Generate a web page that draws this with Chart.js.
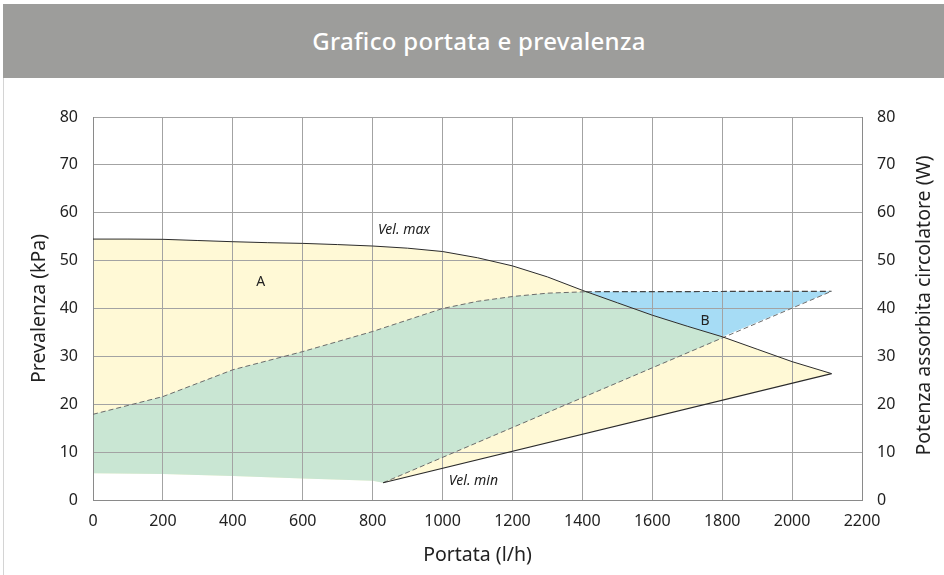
<!DOCTYPE html>
<html>
<head>
<meta charset="utf-8">
<script src="https://cdn.jsdelivr.net/npm/chart.js@4.4.1/dist/chart.umd.min.js"></script>
<style>
  body { margin: 0; background: #fff; }
  .panel-border { position: absolute; left: 3px; top: 4px; width: 0; height: 571px; border-left: 1px solid #d4d4d4; }
  .panel-header {
    position: absolute; left: 3px; top: 4px; width: 941px; height: 74px;
    background: #9d9d9b; color: #fff;
    font-family: 'Noto Sans', sans-serif; font-size: 24px; font-weight: 500; letter-spacing: 0.3px;
    line-height: 74px; text-align: center; box-sizing: border-box; padding-left: 11px;
  }
  .chart-wrap { position: absolute; left: 0; top: 78px; width: 944px; height: 497px; }
</style>
</head>
<body>
<div class="panel-border"></div>
<div class="panel-header">Grafico portata e prevalenza</div>
<div class="chart-wrap"><canvas id="grafico"></canvas></div>

<script>
// tick values
const portataTicks = [0, 200, 400, 600, 800, 1000, 1200, 1400, 1600, 1800, 2000, 2200];
const prevalenzaTicks = [0, 10, 20, 30, 40, 50, 60, 70, 80];

// curva velocità massima (kPa)
const velMaxX = [0, 100, 200, 300, 400, 500, 600, 700, 800, 900, 1000, 1100, 1200, 1300, 1400, 1500, 1600, 1700, 1800, 1900, 2000, 2113];
const velMaxY = [54.5, 54.5, 54.45, 54.2, 53.95, 53.75, 53.6, 53.35, 53.05, 52.6, 51.9, 50.6, 48.9, 46.6, 43.8, 41.2, 38.6, 36.3, 34.1, 31.5, 28.9, 26.4];

// curva velocità minima (kPa)
const velMinX = [830, 2113];
const velMinY = [3.6, 26.4];

// potenza assorbita (W) - tratteggiate
const potenzaX = [0, 200, 400, 600, 800, 1000, 1100, 1200, 1300, 1410];
const potenzaY = [17.9, 21.6, 27.2, 31.0, 35.2, 40.0, 41.5, 42.5, 43.2, 43.5];
const potenzaPiattaX = [1410, 2113];
const potenzaPiattaY = [43.5, 43.6];
const potenzaDiagX = [830, 2113];
const potenzaDiagY = [3.6, 43.6];

// bordo inferiore zona verde
const limiteBassoX = [0, 200, 400, 600, 800, 830];
const limiteBassoY = [5.6, 5.45, 5.0, 4.5, 4.0, 3.6];

const pts = (xs, ys) => xs.map((x, i) => ({ x: x, y: ys[i] }));

const velMax = pts(velMaxX, velMaxY);
const velMin = pts(velMinX, velMinY);
const potenza = pts(potenzaX, potenzaY);
const potenzaPiatta = pts(potenzaPiattaX, potenzaPiattaY);
const potenzaDiag = pts(potenzaDiagX, potenzaDiagY);
const limiteBasso = pts(limiteBassoX, limiteBassoY);

const greenUpper = potenza.concat(velMax.filter(p => p.x > 1410 && p.x <= 1800));
const greenLower = limiteBasso.concat(potenzaDiag.slice(1));
const blueUpper = potenzaPiatta;
const blueLower = velMax.filter(p => p.x >= 1400 && p.x <= 1800).concat(potenzaDiag.slice(1));
const yellowUpper = velMax;
const yellowLower = limiteBasso.concat(velMin.slice(1));

const FONT = 'Noto Sans';
const textColor = '#222';
const gridColor = '#a3a3a3';
const rightTitle = 'Potenza assorbita circolatore (W)';

function area(data, fill, color) {
  return { data: data, fill: fill, backgroundColor: color, borderWidth: 0, borderColor: 'transparent', pointRadius: 0, tension: 0 };
}
function stroke(data, color, width, dash) {
  return { data: data, fill: false, borderColor: color, borderWidth: width, borderDash: dash || [], pointRadius: 0, tension: 0 };
}

const labelsPlugin = {
  id: 'etichette',
  afterDatasetsDraw(chart) {
    const { ctx, scales, chartArea } = chart;
    const items = [
      { text: 'Vel. max', x: 815, y: 56.4, font: 'italic 14px ' + FONT, align: 'left' },
      { text: 'Vel. min', x: 1018, y: 4.0, font: 'italic 14px ' + FONT, align: 'left' },
      { text: 'A', x: 480, y: 45.5, font: '14px ' + FONT, align: 'center' },
      { text: 'B', x: 1751, y: 37.4, font: '14px ' + FONT, align: 'center' }
    ];
    ctx.save();
    ctx.fillStyle = textColor;
    ctx.textBaseline = 'middle';
    items.forEach(it => {
      ctx.font = it.font;
      ctx.textAlign = it.align;
      ctx.fillText(it.text, scales.x.getPixelForValue(it.x), scales.y.getPixelForValue(it.y));
    });
    // titolo asse destro, letto dal basso verso l'alto
    ctx.translate(924, (chartArea.top + chartArea.bottom) / 2 - 3);
    ctx.rotate(-Math.PI / 2);
    ctx.font = '19.5px ' + FONT;
    ctx.textAlign = 'center';
    ctx.fillText(rightTitle, 0, 0);
    ctx.restore();
  }
};

new Chart(document.getElementById('grafico'), {
  type: 'line',
  data: {
    datasets: [
      area(greenUpper, 1, '#c9e6d3'),
      area(greenLower, false, 'transparent'),
      area(blueUpper, 3, '#a6dcf5'),
      area(blueLower, false, 'transparent'),
      area(yellowUpper, 5, '#fff9d6'),
      area(yellowLower, false, 'transparent'),
      stroke(velMax, '#2b2b2b', 1),
      stroke(velMin, '#2b2b2b', 1.2),
      stroke(potenza, '#6b6b6b', 1, [5, 3]),
      stroke(potenzaPiatta, '#444', 1.2, [6, 3]),
      stroke(potenzaDiag, '#6b6b6b', 1, [5, 3])
    ]
  },
  options: {
    responsive: true,
    maintainAspectRatio: false,
    animation: false,
    layout: { padding: { top: 39, left: 0, right: 0, bottom: 0 } },
    plugins: {
      legend: { display: false },
      tooltip: { enabled: false },
      filler: { drawTime: 'beforeDraw' }
    },
    scales: {
      x: {
        type: 'linear',
        min: 0,
        max: 2200,
        afterBuildTicks: axis => { axis.ticks = portataTicks.map(v => ({ value: v })); },
        afterFit: axis => { axis.height = 75; },
        ticks: { color: textColor, font: { family: FONT, size: 16 }, padding: 12, maxRotation: 0, callback: v => String(v) },
        grid: { color: gridColor, drawTicks: false },
        border: { color: '#8a8a8a' },
        title: { display: true, text: 'Portata (l/h)', color: textColor, font: { family: FONT, size: 19.5 }, padding: { top: 0, bottom: 8 } }
      },
      y: {
        position: 'left',
        min: 0,
        max: 80,
        afterBuildTicks: axis => { axis.ticks = prevalenzaTicks.map(v => ({ value: v })); },
        afterFit: axis => { axis.width = 93; },
        ticks: { color: textColor, font: { family: FONT, size: 16 }, padding: 15, callback: v => String(v) },
        grid: { color: gridColor, drawTicks: false },
        border: { color: '#8a8a8a' },
        title: { display: true, text: 'Prevalenza (kPa)', color: textColor, font: { family: FONT, size: 19.5 }, padding: { top: 28, bottom: 0 } }
      },
      y2: {
        position: 'right',
        min: 0,
        max: 80,
        afterBuildTicks: axis => { axis.ticks = prevalenzaTicks.map(v => ({ value: v })); },
        afterFit: axis => { axis.width = 82; },
        ticks: { color: textColor, font: { family: FONT, size: 16 }, padding: 15, callback: v => String(v) },
        grid: { drawOnChartArea: false, drawTicks: false },
        border: { color: '#8a8a8a' },
        title: { display: false }
      }
    }
  },
  plugins: [labelsPlugin]
});
</script>
</body>
</html>
